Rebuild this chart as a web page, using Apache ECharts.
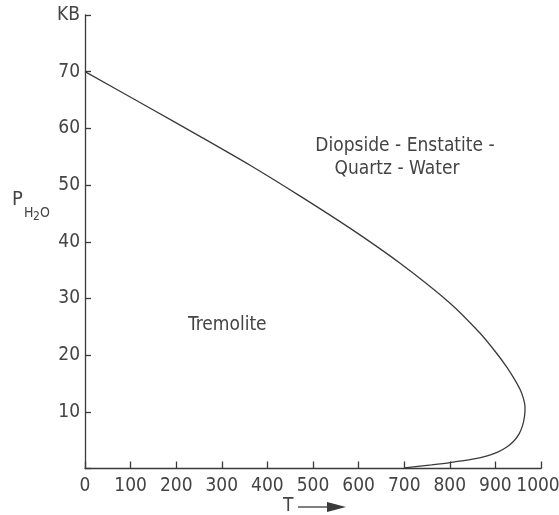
<!DOCTYPE html>
<html><head><meta charset="utf-8">
<script src="https://cdn.jsdelivr.net/npm/echarts@6/dist/echarts.min.js"></script>
<style>html,body{margin:0;padding:0;background:#fff}#c{width:559px;height:515px}</style>
</head><body><div id="c"></div>
<script>
// Reaction boundary Tremolite <-> Diopside + Enstatite + Quartz + Water
var curveT = [0, 142, 252, 362, 471, 581, 691, 800, 866, 900, 925, 943, 955, 962, 965, 964, 960, 952, 940, 925, 905, 880, 850, 800, 760, 720, 700];
var curveP = [70, 63.6, 58.6, 53.5, 48.1, 42.4, 36.2, 29.2, 23.9, 20.6, 17.9, 15.6, 13.8, 12.2, 10.8, 9.3, 7.7, 6.1, 4.8, 3.8, 2.9, 2.2, 1.65, 1.05, 0.65, 0.28, 0.1];
var xTicks = [0, 100, 200, 300, 400, 500, 600, 700, 800, 900, 1000];
var yTicks = [0, 10, 20, 30, 40, 50, 60, 70, 80];
var yTopLabel = 'KB';
var regionLabels = ['Tremolite', 'Diopside - Enstatite -', 'Quartz - Water'];

var FONT = '"Liberation Sans Narrow","DejaVu Sans Condensed","Liberation Sans",sans-serif';
var INK = '#3a3a3a';

var pts = curveT.map(function (t, i) { return [t, curveP[i]]; });

var chart = echarts.init(document.getElementById('c'), null, {renderer: 'canvas'});
chart.setOption({
  backgroundColor: '#fff',
  animation: false,
  grid: {left: 85, right: 18, top: 15, bottom: 46.5, containLabel: false, outerBoundsMode: 'none'},
  xAxis: {
    type: 'value', min: xTicks[0], max: xTicks[xTicks.length - 1], interval: 100,
    axisLine: {show: true, lineStyle: {color: INK, width: 1.3}},
    axisTick: {show: true, inside: true, length: 7, lineStyle: {color: INK, width: 1.3}},
    axisLabel: {color: '#444', fontSize: 19, fontFamily: FONT, margin: 8, hideOverlap: false,
      formatter: function (v) { return v === 1000 ? '{last|' + v + '}' : String(v); },
      rich: {last: {fontSize: 19, fontFamily: FONT, color: '#444', padding: [0, 6, 0, 0]}}},
    splitLine: {show: false}
  },
  yAxis: {
    type: 'value', min: yTicks[0], max: yTicks[yTicks.length - 1], interval: 10,
    axisLine: {show: true, lineStyle: {color: INK, width: 1.3}},
    axisTick: {show: true, inside: true, length: 6, lineStyle: {color: INK, width: 1.3}},
    axisLabel: {color: '#444', fontSize: 19, fontFamily: FONT, margin: 5,
      formatter: function (v) { if (v === 0) return ''; if (v === 80) return yTopLabel; return String(v); }},
    splitLine: {show: false}
  },
  series: [{
    type: 'line', data: pts, smooth: 0.25, symbol: 'none',
    lineStyle: {color: INK, width: 1.3}
  }],
  graphic: [
    {type: 'text', left: 188, top: 316, style: {text: regionLabels[0], font: '19px ' + FONT, fill: '#444'}},
    {type: 'text', x: 405, y: 146, style: {text: regionLabels[1], font: '19px ' + FONT, fill: '#444', align: 'center', verticalAlign: 'middle'}},
    {type: 'text', x: 397, y: 169, style: {text: regionLabels[2], font: '19px ' + FONT, fill: '#444', align: 'center', verticalAlign: 'middle'}},
    {type: 'text', x: 12, y: 190, style: {text: 'P', font: '20px ' + FONT, fill: '#444'}},
    {type: 'text', x: 24, y: 206, style: {text: 'H', font: '14px ' + FONT, fill: '#444'}},
    {type: 'text', x: 33, y: 211, style: {text: '2', font: '12px ' + FONT, fill: '#444'}},
    {type: 'text', x: 40, y: 206, style: {text: 'O', font: '14px ' + FONT, fill: '#444'}},
    {type: 'text', x: 283, y: 497, style: {text: 'T', font: '19px ' + FONT, fill: '#444'}},
    {type: 'line', shape: {x1: 298, y1: 507, x2: 330, y2: 507}, style: {stroke: INK, lineWidth: 1.3}},
    {type: 'polygon', shape: {points: [[327, 502], [346, 507], [327, 512]]}, style: {fill: INK}}
  ]
});
</script></body></html>
